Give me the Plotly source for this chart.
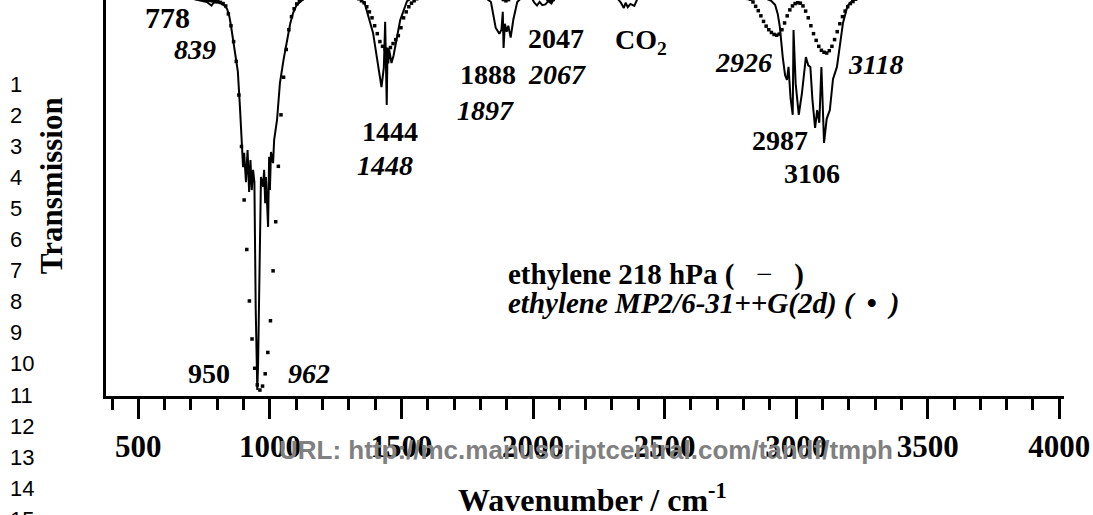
import plotly.graph_objects as go

# Measured spectrum: ethylene gas, 218 hPa (wavenumber / cm-1, transmission %)
exp_wn = [377, 600, 700, 740, 760, 770, 778, 786, 800, 815, 828, 838, 846, 852, 860,
          870, 878, 886, 893, 898, 902, 909, 915, 921, 926, 931, 936, 941, 946, 949,
          952, 955, 959, 966, 974, 978, 982, 985, 993, 997, 1000, 1004, 1012, 1016,
          1027, 1038, 1052, 1065, 1077, 1088, 1100, 1114, 1133,
          1340, 1360, 1392, 1411, 1424, 1433, 1438, 1441, 1444, 1447, 1450, 1453,
          1462, 1470, 1480, 1495, 1521, 1540,
          1820, 1840, 1858, 1872, 1880, 1885, 1888, 1893, 1900, 1906, 1915, 1925,
          1940, 1955,
          1995, 2005, 2015, 2025, 2035, 2047, 2058, 2070, 2080,
          2320, 2335, 2345, 2352, 2360, 2370, 2385, 2398,
          2880, 2905, 2920, 2930, 2938, 2949, 2958, 2965, 2971, 2979, 2984, 2987,
          2990, 2998, 3010, 3022, 3037, 3046, 3054, 3062, 3072, 3080, 3088, 3096,
          3106, 3116, 3128, 3140, 3155, 3170, 3178, 3195, 3216, 3240, 4018]
exp_val = [101, 101, 100.4, 99.8, 99.5, 99.0, 98.6, 99.3, 99.4, 99.1, 98.6, 97.6, 95.8, 93.5, 89.9,
           86, 82, 73, 64, 57.8, 61.4, 54.0, 62.1, 51.5, 59.6, 52.0, 57.1, 54, 22, 6,
           1.5, 8, 28, 55.3, 52.8, 57.1, 48.7, 55.3, 42.7, 60.4, 52.0, 61.6, 58.8, 64.6,
           69.7, 79, 85, 89.9, 94, 96.7, 98.5, 99.5, 100.5,
           100.5, 99.2, 91.7, 83.1, 78.0, 83, 94.5, 84, 73.5, 88, 84, 87.5,
           84.1, 86, 90, 94.9, 99.7, 100.5,
           100.5, 99.5, 93, 91.5, 92.5, 97, 87.9, 94, 92, 93.5, 90.5, 95,
           99.5, 100.5,
           100.5, 99.3, 98.6, 99.5, 98.7, 98.9, 99.7, 99.1, 100.5,
           100.5, 99.2, 98.0, 99.3, 98.2, 99.0, 98.5, 100.5,
           100.5, 99.8, 98.8, 96.5, 93.2, 85.6, 81, 79.8, 83.1, 75, 72.2, 71.0,
           92.4, 79, 71.0, 76.5, 85.6, 83.5, 83.1, 74.7, 67.7, 72.2, 69, 83.1,
           63.9, 70, 72.2, 80, 83.1, 90, 94.2, 98.5, 100, 100.5, 100.5]

# Calculated spectrum: MP2/6-31++G(2d)
th_wn = [702, 712, 722, 732, 742, 752, 762, 772, 782, 792, 802, 812, 822,
         832, 842, 852, 862, 872, 882, 892, 902, 912, 922, 932, 942, 952, 962,
         972, 982, 992, 1002, 1012, 1022, 1032, 1042, 1052, 1062, 1072, 1082,
         1092, 1102, 1112, 1122,
         1338, 1348, 1358, 1368, 1378, 1388, 1398, 1408, 1418, 1428, 1438, 1448,
         1458, 1468, 1478, 1488, 1498, 1508, 1518, 1528, 1538, 1548, 1558,
         1877, 1887, 1897, 1907, 1917,
         2047, 2057, 2067, 2077, 2087,
         2806, 2816, 2826, 2836, 2846, 2856, 2866, 2876, 2886, 2896, 2906, 2916,
         2926, 2936, 2946, 2956, 2966, 2976, 2986, 2996, 3006, 3016, 3026, 3036,
         3046, 3056, 3066, 3076, 3086, 3096, 3106, 3116, 3126, 3136, 3146, 3156,
         3166, 3176, 3186, 3196, 3206, 3216, 3226, 3236]
th_val = [100.6, 100.5, 100.4, 100.3, 100.2, 100.1, 100.0, 99.9, 99.8, 99.7, 99.6, 99.4, 99.1,
          98.5, 96.5, 93.5, 89.5, 84.5, 76, 63, 49.5, 37, 24, 14.4, 7, 2.8, 1.5,
          2.5, 5.6, 11, 19, 31.6, 44, 58, 71, 80.5, 87.5, 92.5, 95.8,
          97.8, 99, 99.7, 100.3,
          100.3, 99.8, 99.3, 98.3, 97, 95.5, 93.5, 91.5, 89.5, 88.3, 87.6, 87.4,
          88, 89, 90, 91, 93, 95.5, 97, 98.3, 99.2, 99.8, 100.3,
          100.5, 100.1, 99.8, 100.1, 100.5,
          100.5, 100.1, 99.8, 100.1, 100.5,
          100.6, 100.4, 100.2, 99.5, 98.4, 97.3, 96, 94.6, 93.4, 92.5, 91.8, 91.3,
          91.1, 91.4, 92.5, 94.2, 96, 97.5, 98.5, 99.1, 99.3, 99.2, 98.5, 97.2,
          95.5, 93.5, 91.5, 89.8, 88.3, 87.3, 86.8, 86.6, 87.2, 88.3, 90, 92,
          94, 95.8, 97.2, 98.3, 99.1, 99.6, 100.2, 100.5]

x_ticks = [500, 1000, 1500, 2000, 2500, 3000, 3500, 4000]

SERIF = "Liberation Serif"
SANS = "Liberation Sans"

fig = go.Figure()
fig.add_trace(go.Scatter(x=exp_wn, y=exp_val, mode="lines",
                         line=dict(color="black", width=2), showlegend=False))
fig.add_trace(go.Scatter(x=th_wn, y=th_val, mode="markers",
                         marker=dict(symbol="square", size=3.5, color="black",
                                     line=dict(width=0)),
                         showlegend=False))

# Band assignments: bold = measured, bold italic = calculated
band_labels = [
    ("<b>778</b>", 609, 95.5, 30),
    ("<b><i>839</i></b>", 715, 87.6, 28),
    ("<b>1444</b>", 1457, 66.9, 28),
    ("<b><i>1448</i></b>", 1438, 58.3, 28),
    ("<b>1888</b>", 1829, 81.3, 28),
    ("<b><i>1897</i></b>", 1821, 72.0, 28),
    ("<b>2047</b>", 2088, 90.4, 28),
    ("<b><i>2067</i></b>", 2091, 81.1, 28),
    ("<b>CO<sub>2</sub></b>", 2410, 89.5, 28),
    ("<b><i>2926</i></b>", 2798, 84.3, 28),
    ("<b><i>3118</i></b>", 3303, 83.8, 28),
    ("<b>2987</b>", 2938, 64.6, 28),
    ("<b>3106</b>", 3060, 56.1, 28),
    ("<b>950</b>", 769, 5.8, 28),
    ("<b><i>962</i></b>", 1149, 5.8, 28),
]
annotations = []
for text, x, y, size in band_labels:
    annotations.append(dict(text=text, x=x, y=y, xref="x", yref="y", showarrow=False,
                            xanchor="center", yanchor="middle",
                            font=dict(family=SERIF, size=size, color="black")))

nb = "\u00a0"
thin = "\u2009"
annotations.append(dict(
    text="<b>ethylene 218 hPa (</b>" + nb * 3 + "\u2212" + nb * 3 + "<b>)</b>",
    x=1897, y=30.6, xref="x", yref="y", xanchor="left", yanchor="middle",
    showarrow=False, font=dict(family=SERIF, size=29, color="black")))
annotations.append(dict(
    text="<b><i>ethylene MP2/6-31++G(2d) (" + nb + thin + "\u2022" + nb + thin + ")</i></b>",
    x=1897, y=23.4, xref="x", yref="y", xanchor="left", yanchor="middle",
    showarrow=False, font=dict(family=SERIF, size=29, color="black")))

# Axis titles
annotations.append(dict(text="<b>Transmission</b>", x=-0.0574, y=0.53, xref="paper",
                        yref="paper", textangle=-90, showarrow=False,
                        xanchor="center", yanchor="middle",
                        font=dict(family=SERIF, size=31, color="black")))
annotations.append(dict(text="<b>Wavenumber / cm<sup>-1</sup></b>", x=0.508, y=-0.258,
                        xref="paper", yref="paper", showarrow=False,
                        xanchor="center", yanchor="middle",
                        font=dict(family=SERIF, size=32, color="black")))

# Manuscript line numbers down the left margin
for i in range(1, 16):
    yc = 84 + 31.1 * (i - 1)
    annotations.append(dict(text=str(i), x=(8 - 106) / 958, y=(396 - yc) / 396,
                            xref="paper", yref="paper", xanchor="left",
                            yanchor="middle", showarrow=False,
                            font=dict(family=SANS, size=22, color="black")))

# Submission watermark
annotations.append(dict(text="<b>URL: http://mc.manuscriptcentral.com/tandf/tmph</b>",
                        x=0.501, y=-0.136, xref="paper", yref="paper", showarrow=False,
                        xanchor="center", yanchor="middle",
                        font=dict(family=SANS, size=26, color="#808080")))

fig.update_layout(
    width=1093, height=515,
    margin=dict(l=106, r=29, t=0, b=119),
    paper_bgcolor="white", plot_bgcolor="white",
    annotations=annotations,
    xaxis=dict(range=[377, 4018], tickvals=x_ticks, ticks="outside", ticklen=20,
               tickwidth=2.5, tickcolor="black", showline=True, linecolor="black",
               linewidth=2.5, showgrid=False, zeroline=False, ticklabelstandoff=1,
               tickfont=dict(family=SERIF, size=31, color="black", weight="bold"),
               minor=dict(dtick=100, tick0=0, ticks="outside", ticklen=11,
                          tickwidth=2.5, tickcolor="black", showgrid=False)),
    yaxis=dict(range=[0, 100], showticklabels=False, ticks="", showline=True,
               linecolor="black", linewidth=2.5, showgrid=False, zeroline=False),
)

fig.write_html("out.html")
